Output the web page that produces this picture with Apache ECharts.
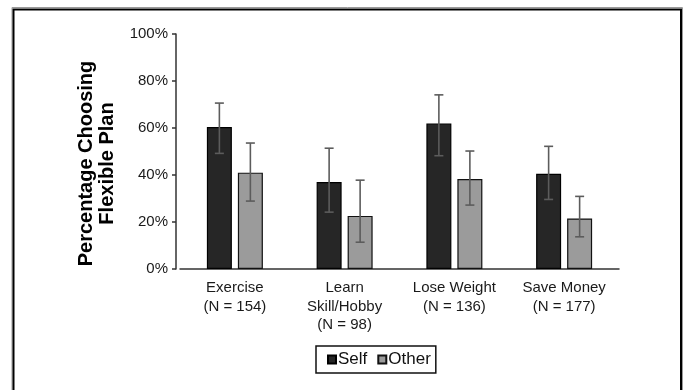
<!DOCTYPE html>
<html>
<head>
<meta charset="utf-8">
<script src="https://cdn.jsdelivr.net/npm/echarts@6/dist/echarts.min.js"></script>
<style>
  html, body { margin: 0; padding: 0; background: #fff; }
  #chart { width: 684px; height: 390px; }
</style>
</head>
<body>
<div id="chart"></div>
<script>
// Goal categories with sample sizes
const categories = ['Exercise\n(N = 154)', 'Learn\nSkill/Hobby\n(N = 98)', 'Lose Weight\n(N = 136)', 'Save Money\n(N = 177)'];
// Percentage choosing the flexible plan
const selfValues = [60.4, 37.0, 61.9, 40.5];
const otherValues = [41.0, 22.6, 38.3, 21.5];
// Error bar bounds (percent)
const selfLow = [49.2, 24.2, 48.2, 29.6];
const selfHigh = [70.6, 51.4, 74.1, 52.2];
const otherLow = [28.9, 11.4, 27.2, 13.7];
const otherHigh = [53.6, 37.8, 50.2, 30.9];
const yTicks = [0, 20, 40, 60, 80, 100];

const BAR_W = 25;
const BAR_GAP = 6;
const FONT = '"Liberation Sans", Arial, sans-serif';

function errorSeries(low, high, shift) {
  return {
    type: 'custom',
    silent: true,
    z: 5,
    data: low.map((l, i) => [i, l, high[i]]),
    renderItem: function (params, api) {
      const top = api.coord([api.value(0), api.value(2)]);
      const bot = api.coord([api.value(0), api.value(1)]);
      const x = top[0] + shift;
      const cap = 4.5;
      const style = { stroke: '#5c5c5c', lineWidth: 1.6 };
      return {
        type: 'group',
        children: [
          { type: 'line', shape: { x1: x, y1: top[1], x2: x, y2: bot[1] }, style: style },
          { type: 'line', shape: { x1: x - cap, y1: top[1], x2: x + cap, y2: top[1] }, style: style },
          { type: 'line', shape: { x1: x - cap, y1: bot[1], x2: x + cap, y2: bot[1] }, style: style }
        ]
      };
    }
  };
}

const chart = echarts.init(document.getElementById('chart'), null, { renderer: 'canvas' });
const half = (BAR_W + BAR_GAP) / 2;

chart.setOption({
  animation: false,
  backgroundColor: '#fff',
  grid: { left: 180, right: 65, top: 34, bottom: 121 },
  legend: {
    data: ['Self', 'Other'],
    icon: 'rect',
    left: 316,
    top: 346,
    orient: 'horizontal',
    itemWidth: 8,
    itemHeight: 8,
    itemGap: 10,
    padding: [5, 5, 5, 11],
    borderColor: '#111',
    borderWidth: 1.5,
    textStyle: { fontFamily: FONT, fontSize: 17, color: '#111', padding: [0, 0, 0, -3] }
  },
  xAxis: {
    type: 'category',
    data: categories,
    axisLine: { lineStyle: { color: '#333', width: 1.5 } },
    axisTick: { show: false },
    axisLabel: { fontFamily: FONT, fontSize: 15, color: '#1a1a1a', lineHeight: 18.5, margin: 10, interval: 0 }
  },
  yAxis: {
    type: 'value',
    min: yTicks[0],
    max: yTicks[yTicks.length - 1],
    interval: 20,
    offset: 4,
    splitLine: { show: false },
    axisLine: { show: true, lineStyle: { color: '#333', width: 1.5 } },
    axisTick: { show: true, length: 4, lineStyle: { color: '#333', width: 1.5 } },
    axisLabel: { fontFamily: FONT, fontSize: 15, color: '#1a1a1a', margin: 8, formatter: '{value}%' }
  },
  graphic: [
    {
      type: 'rect',
      shape: { x: 12, y: 7.5, width: 670.5, height: 400 },
      style: { fill: 'none', stroke: '#9a9a9a', lineWidth: 1 },
      z: 0
    },
    {
      type: 'rect',
      shape: { x: 13.5, y: 9.5, width: 667.5, height: 400 },
      style: { fill: 'none', stroke: '#000', lineWidth: 2 },
      z: 1
    },
    {
      type: 'text',
      x: 96.5,
      y: 163.5,
      rotation: Math.PI / 2,
      style: {
        text: 'Percentage Choosing\nFlexible Plan',
        fontFamily: FONT,
        fontWeight: 'bold',
        fontSize: 20,
        lineHeight: 21,
        fill: '#000',
        align: 'center',
        verticalAlign: 'middle'
      }
    }
  ],
  series: [
    {
      name: 'Self',
      type: 'bar',
      data: selfValues,
      barWidth: BAR_W,
      barGap: (BAR_GAP / BAR_W * 100) + '%',
      itemStyle: { color: '#262626', borderColor: '#000', borderWidth: 1.2 }
    },
    {
      name: 'Other',
      type: 'bar',
      data: otherValues,
      barWidth: BAR_W,
      itemStyle: { color: '#9b9b9b', borderColor: '#111', borderWidth: 1.2 }
    },
    errorSeries(selfLow, selfHigh, -half),
    errorSeries(otherLow, otherHigh, half)
  ]
});
</script>
</body>
</html>
